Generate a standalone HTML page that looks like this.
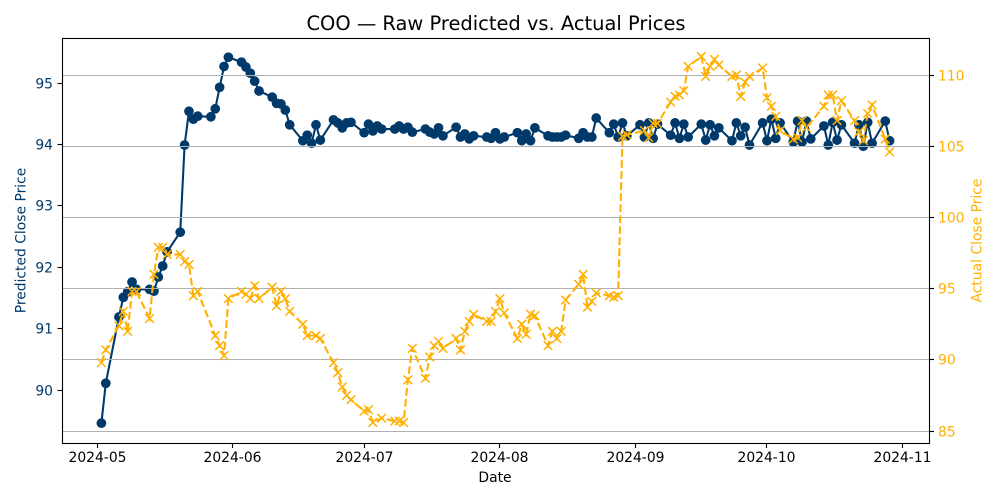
<!DOCTYPE html>
<html lang="en">
<head>
<meta charset="utf-8">
<title>COO — Raw Predicted vs. Actual Prices</title>
<style>
html,body{margin:0;padding:0;background:#fff;width:1000px;height:500px;overflow:hidden}
svg{display:block}
text{font-family:"DejaVu Sans","Liberation Sans",sans-serif}
</style>
</head>
<body>
<svg id="chart" xmlns="http://www.w3.org/2000/svg" width="1000" height="500" viewBox="0 0 1000 500"></svg>
<script>
const dates = [
'2024-05-02','2024-05-03',
'2024-05-06','2024-05-07','2024-05-08','2024-05-09','2024-05-10',
'2024-05-13','2024-05-14','2024-05-15','2024-05-16','2024-05-17',
'2024-05-20','2024-05-21','2024-05-22','2024-05-23','2024-05-24',
'2024-05-27','2024-05-28','2024-05-29','2024-05-30','2024-05-31',
'2024-06-03','2024-06-04','2024-06-05','2024-06-06','2024-06-07',
'2024-06-10','2024-06-11','2024-06-12','2024-06-13','2024-06-14',
'2024-06-17','2024-06-18','2024-06-19','2024-06-20','2024-06-21',
'2024-06-24','2024-06-25','2024-06-26','2024-06-27','2024-06-28',
'2024-07-01','2024-07-02','2024-07-03','2024-07-04','2024-07-05',
'2024-07-08','2024-07-09','2024-07-10','2024-07-11','2024-07-12',
'2024-07-15','2024-07-16','2024-07-17','2024-07-18','2024-07-19',
'2024-07-22','2024-07-23','2024-07-24','2024-07-25','2024-07-26',
'2024-07-29','2024-07-30','2024-07-31','2024-08-01','2024-08-02',
'2024-08-05','2024-08-06','2024-08-07','2024-08-08','2024-08-09',
'2024-08-12','2024-08-13','2024-08-14','2024-08-15','2024-08-16',
'2024-08-19','2024-08-20','2024-08-21','2024-08-22','2024-08-23',
'2024-08-26','2024-08-27','2024-08-28','2024-08-29','2024-08-30',
'2024-09-02','2024-09-03','2024-09-04','2024-09-05','2024-09-06',
'2024-09-09','2024-09-10','2024-09-11','2024-09-12','2024-09-13',
'2024-09-16','2024-09-17','2024-09-18','2024-09-19','2024-09-20',
'2024-09-23','2024-09-24','2024-09-25','2024-09-26','2024-09-27',
'2024-09-30','2024-10-01','2024-10-02','2024-10-03','2024-10-04',
'2024-10-07','2024-10-08','2024-10-09','2024-10-10','2024-10-11',
'2024-10-14','2024-10-15','2024-10-16','2024-10-17','2024-10-18',
'2024-10-21','2024-10-22','2024-10-23','2024-10-24','2024-10-25',
'2024-10-28','2024-10-29'
];
const predicted = [
89.46,90.11,
91.19,91.51,91.60,91.76,91.64,
91.64,91.61,91.84,92.02,92.25,
92.57,93.99,94.54,94.41,94.46,
94.45,94.58,94.93,95.27,95.42,
95.34,95.26,95.16,95.03,94.87,
94.77,94.67,94.66,94.56,94.32,
94.06,94.15,94.02,94.32,94.07,
94.40,94.35,94.27,94.35,94.36,
94.19,94.33,94.22,94.30,94.25,
94.25,94.30,94.25,94.28,94.20,
94.25,94.20,94.17,94.27,94.14,
94.28,94.12,94.17,94.09,94.14,
94.12,94.10,94.19,94.09,94.12,
94.19,94.06,94.17,94.06,94.27,
94.14,94.12,94.12,94.12,94.15,
94.10,94.19,94.12,94.12,94.43,
94.19,94.33,94.12,94.35,94.14,
94.32,94.12,94.35,94.10,94.33,
94.15,94.35,94.10,94.33,94.12,
94.33,94.07,94.32,94.14,94.27,
94.06,94.35,94.14,94.28,93.99,
94.35,94.06,94.41,94.10,94.35,
94.04,94.38,94.04,94.38,94.09,
94.30,93.99,94.36,94.07,94.32,
94.02,94.32,93.97,94.36,94.02,
94.38,94.06
];
const actual = [
89.8,90.7,
92.4,93.4,92.0,94.8,94.8,
92.9,96.0,97.9,97.9,97.4,
97.4,96.9,96.7,94.5,94.8,
null,91.7,91.0,90.3,94.3,
94.8,94.6,94.3,95.2,94.3,
95.1,93.8,94.8,94.3,93.4,
92.5,91.7,null,91.7,91.5,
89.8,89.1,88.1,87.5,87.2,
86.4,86.5,85.6,null,85.9,
85.7,85.7,85.6,88.6,90.8,
88.7,90.2,91.0,91.3,90.8,
91.5,90.7,92.0,92.7,93.2,
92.7,92.7,93.4,94.3,93.3,
91.5,92.5,91.8,93.2,93.1,
91.0,92.0,91.5,92.0,94.2,
95.3,96.0,93.7,94.1,94.7,
94.5,94.4,94.5,105.7,105.8,
null,106.1,105.6,106.6,106.6,
108.1,108.5,108.6,108.9,110.6,
111.3,109.9,110.6,111.1,110.7,
109.9,110.0,108.5,109.5,109.9,
110.5,108.4,107.8,107.1,106.1,
105.5,105.6,106.8,106.3,null,
107.8,108.6,108.6,106.8,108.2,
106.8,106.0,105.4,107.3,107.9,
105.5,104.6
];
const xTickDates = ['2024-05-01','2024-06-01','2024-07-01','2024-08-01','2024-09-01','2024-10-01','2024-11-01'];
const xTickLabels = ['2024-05','2024-06','2024-07','2024-08','2024-09','2024-10','2024-11'];
const leftTicks = [90,91,92,93,94,95];
const rightTicks = [85,90,95,100,105,110];
const xDomain = ['2024-04-23','2024-11-07'];
const leftDomain = [89.137,95.733];
const rightDomain = [84.16,112.6];

const NAVY = '#003a6b', AMBER = '#ffb000';
const box = {l:62, r:929, t:38, b:443};
const svg = document.getElementById('chart');
const NS = 'http://www.w3.org/2000/svg';

function t(d){ return Date.parse(d + 'T00:00:00Z'); }
function xScale(d){
  return box.l + (t(d) - t(xDomain[0])) / (t(xDomain[1]) - t(xDomain[0])) * (box.r - box.l);
}
function yLeft(v){
  return box.b - (v - leftDomain[0]) / (leftDomain[1] - leftDomain[0]) * (box.b - box.t);
}
function yRight(v){
  return box.b - (v - rightDomain[0]) / (rightDomain[1] - rightDomain[0]) * (box.b - box.t);
}
function snap(p){ return Math.floor(p) + 0.5; }
function make(tag, attrs, parent){
  const el = document.createElementNS(NS, tag);
  for (const k in attrs) el.setAttribute(k, attrs[k]);
  (parent || svg).appendChild(el);
  return el;
}
function line(x1, y1, x2, y2, stroke, w, parent){
  return make('line', {x1:x1, y1:y1, x2:x2, y2:y2, stroke:stroke, 'stroke-width':w}, parent);
}
function label(x, y, str, size, fill, anchor, parent){
  const el = make('text', {x:x, y:y, 'font-size':size, fill:fill, 'text-anchor':anchor}, parent);
  el.textContent = str;
  return el;
}

/* predicted series (below the grid) */
const predGroup = make('g', {});


const predPts = dates.map((d, i) => [xScale(d), yLeft(predicted[i])]);
const predLine = make('polyline', {points: predPts.map(p => p.join(',')).join(' '), fill:'none', stroke:NAVY, 'stroke-width':2.08, 'stroke-linejoin':'round'}, predGroup);


predPts.forEach(p => {
  const c = make('circle', {cx:p[0], cy:p[1], r:4.86, fill:NAVY}, predGroup);
  
  
});

/* horizontal grid from the right axis */
rightTicks.forEach(v => {
  const g = line(box.l, snap(yRight(v)), box.r, snap(yRight(v)), '#b0b0b0', 1.1);
  
  
});

/* actual series */
const actGroup = make('g', {});


const actPts = [];
dates.forEach((d, i) => { if (actual[i] !== null) actPts.push([xScale(d), yRight(actual[i])]); });
const actLine = make('polyline', {points: actPts.map(p => p.join(',')).join(' '), fill:'none', stroke:AMBER, 'stroke-width':2.08, 'stroke-dasharray':'7.7 3.33'}, actGroup);


actPts.forEach(p => {
  const m = make('path', {d:`M${p[0]-4.3} ${p[1]-4.3}L${p[0]+4.3} ${p[1]+4.3}M${p[0]-4.3} ${p[1]+4.3}L${p[0]+4.3} ${p[1]-4.3}`, fill:'none', stroke:AMBER, 'stroke-width':1.5}, actGroup);
  
  
});

/* frame */
const frame = make('rect', {x:box.l+0.5, y:box.t+0.5, width:box.r-box.l, height:box.b-box.t, fill:'none', stroke:'#000', 'stroke-width':1.1});



/* x axis */
const xAxis = make('g', {});


xTickDates.forEach((d, i) => {
  const x = snap(xScale(d));
  const tk = line(x, box.b + 0.5, x, box.b + 5, '#000', 1.1, xAxis);
  
  
  const tl = label(x, 462, xTickLabels[i], 13.89, '#000', 'middle', xAxis);
  
  
});

/* left axis */
const leftAxis = make('g', {});


leftTicks.forEach(v => {
  const y = snap(yLeft(v));
  const tk = line(box.l - 4.5, y, box.l + 0.5, y, '#000', 1.1, leftAxis);
  
  
  const tl = label(box.l - 9, y + 5, String(v), 13.89, NAVY, 'end', leftAxis);
  
  
});

/* right axis */
const rightAxis = make('g', {});


rightTicks.forEach(v => {
  const y = snap(yRight(v));
  const tk = line(box.r + 0.5, y, box.r + 5, y, '#000', 1.1, rightAxis);
  
  
  const tl = label(box.r + 9, y + 5, String(v), 13.89, AMBER, 'start', rightAxis);
  
  
});
</script>
<script>
/* titles */
(function(){
  const title = label(496, 30, 'COO — Raw Predicted vs. Actual Prices', 19.44, '#000', 'middle');
  
  
  const xt = label(495, 482, 'Date', 13.89, '#000', 'middle');
  
  
  const yl = label(0, 0, 'Predicted Close Price', 13.89, NAVY, 'middle');
  yl.setAttribute('transform', 'translate(25.5 240.5) rotate(-90)');
  
  
  const yr = label(0, 0, 'Actual Close Price', 13.89, AMBER, 'middle');
  yr.setAttribute('transform', 'translate(981.5 240.5) rotate(-90)');
  
  
})();
</script>
</body>
</html>
